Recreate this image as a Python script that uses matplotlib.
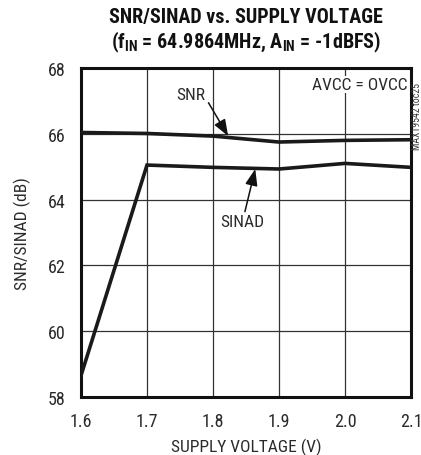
import matplotlib
matplotlib.use("Agg")
import matplotlib.pyplot as plt
from matplotlib import font_manager

# Supply sweep and measured dynamic performance
supply_v = [1.6, 1.7, 1.8, 1.9, 2.0, 2.1]
snr_db = [66.04, 66.01, 65.93, 65.75, 65.80, 65.82]
sinad_db = [58.65, 65.05, 64.98, 64.93, 65.10, 64.98]

x_ticks = [1.6, 1.7, 1.8, 1.9, 2.0, 2.1]
x_tick_labels = ["1.6", "1.7", "1.8", "1.9", "2.0", "2.1"]
y_ticks = [58, 60, 62, 64, 66, 68]

# Prefer a narrow sans; otherwise use the condensed DejaVu face
available = {f.name for f in font_manager.fontManager.ttflist}
family = "DejaVu Sans"
stretch = "condensed"
for cand in ("Roboto Condensed", "Archivo Narrow", "Liberation Sans Narrow"):
    if cand in available:
        family, stretch = cand, "normal"
        break

plt.rcParams["font.family"] = [family, "DejaVu Sans"]
plt.rcParams["font.stretch"] = stretch
plt.rcParams["mathtext.fontset"] = "custom"
plt.rcParams["mathtext.bf"] = f"{family}:bold"
plt.rcParams["mathtext.rm"] = family

fig = plt.figure(figsize=(4.21, 4.56), dpi=100)
ax = fig.add_axes([81 / 421, 58 / 456, 330 / 421, 329 / 456])

ax.set_xlim(1.6, 2.1)
ax.set_ylim(58, 68)
ax.set_xticks(x_ticks)
ax.set_xticklabels(x_tick_labels)
ax.set_yticks(y_ticks)
ax.tick_params(length=0, labelsize=13, colors="#2a2a2a")
ax.tick_params(axis="y", pad=11)
ax.tick_params(axis="x", pad=11)
ax.grid(True, color="#333333", linewidth=0.9)
ax.set_axisbelow(True)
for s in ax.spines.values():
    s.set_linewidth(2.2)
    s.set_color("#111111")

ax.plot(supply_v, snr_db, color="#1a1a1a", linewidth=2.6, solid_joinstyle="miter", zorder=3)
ax.plot(supply_v, sinad_db, color="#1a1a1a", linewidth=2.6, solid_joinstyle="miter", zorder=3)

arrow = dict(arrowstyle="-|>,head_length=0.8,head_width=0.3", color="#111111", lw=1.1,
             shrinkA=0, shrinkB=0)
ax.annotate("SNR", xy=(1.823, 65.93), xytext=(1.767, 67.2), fontsize=12.5, color="#2a2a2a",
            ha="center", va="center", arrowprops=dict(arrow, relpos=(1.0, 0.25)))
ax.annotate("SINAD", xy=(1.864, 64.93), xytext=(1.844, 63.32), fontsize=12.5, color="#2a2a2a",
            ha="center", va="center", arrowprops=dict(arrow, relpos=(0.55, 1.0)))

ax.text(2.095, 67.5, "AVCC = OVCC", fontsize=12.5, color="#2a2a2a", ha="right", va="center",
        bbox=dict(facecolor="white", edgecolor="none", pad=0.5), zorder=4)

fig.text(417 / 421, 1 - 117 / 456, "MAX19542 toc25", rotation=90, fontsize=7,
         color="#333333", ha="center", va="center")

ax.set_xlabel("SUPPLY VOLTAGE (V)", fontsize=12.5, color="#2a2a2a", labelpad=5.5)
ax.set_ylabel("SNR/SINAD (dB)", fontsize=12.5, color="#2a2a2a", labelpad=12)

fig.text(0.584, 1 - 18 / 456, "SNR/SINAD vs. SUPPLY VOLTAGE", fontsize=14.5, fontweight="bold",
         ha="center", va="center", color="#111111")
fig.text(0.584, 1 - 42 / 456, r"(f$_{\mathbf{IN}}$ = 64.9864MHz, A$_{\mathbf{IN}}$ = -1dBFS)",
         fontsize=14.5, fontweight="bold", ha="center", va="center", color="#111111")

fig.savefig("out.png", dpi=100, facecolor="white")
